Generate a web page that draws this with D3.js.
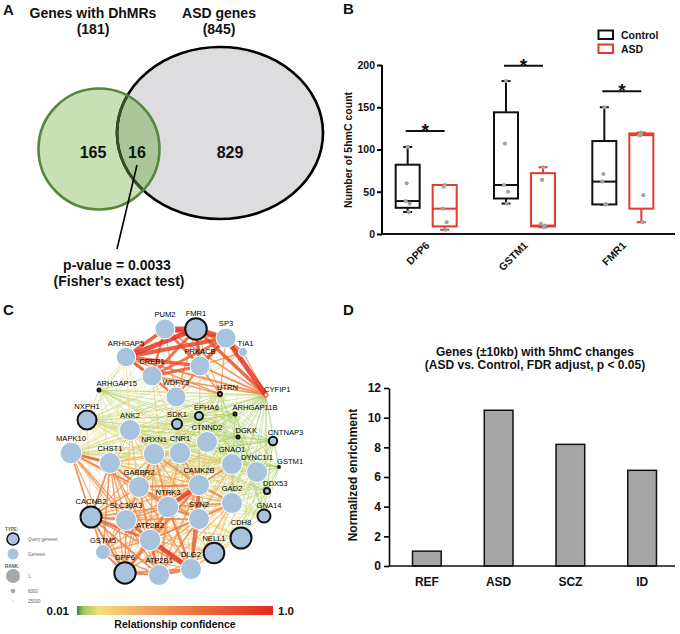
<!DOCTYPE html>
<html><head><meta charset="utf-8">
<script src="https://cdn.jsdelivr.net/npm/d3@7"></script>
<style>
body{margin:0;background:#fff}
svg{display:block}
text{font-family:"Liberation Sans",Arial,Helvetica,sans-serif}
</style>
</head><body>
<svg id="chart" width="680" height="634"></svg>
<script>
// ---------------- DATA ----------------
// Panel A (Venn)
const vennSetNames = ["Genes with DhMRs", "ASD genes"];
const vennSetTotals = [181, 845];
const vennRegionCounts = [165, 16, 829];
const vennPText = ["p-value = 0.0033", "(Fisher's exact test)"];

// Panel B (box plots)
const boxGenes = ["DPP6", "GSTM1", "FMR1"];
const boxGroups = ["Control", "ASD"];
// [min, q1, median, q3, max]
const controlBox = [[26, 31, 39, 82, 103], [36, 42, 58, 144, 181], [35, 35, 62, 110, 150]];
const asdBox = [[5, 9, 30, 58, 58], [8, 9, 10, 72, 79], [14, 30, 117, 119, 120]];
const controlPoints = [[103, 60, 39, 36, 26], [181, 107, 58, 50, 36], [150, 71, 62, 35, 35]];
const asdPoints = [[58, 56, 30, 14, 5], [79, 64, 12, 10, 8], [120, 117, 117, 46, 14]];
const sigBarValues = [122, 199, 169];
const boxYTicks = [0, 50, 100, 150, 200];

// Panel C (network)
const nodeNames = ["PUM2","FMR1","SP3","TIA1","ARHGAP5","PRKACB","CREB1","ARHGAP15","WDFY3","UTRN","CYFIP1",
  "NXPH1","ANK2","SDK1","EPHA6","ARHGAP11B","CTNND2","DGKK","CNTNAP3","MAPK10","NRXN1","CNR1","CHST1",
  "GNAO1","DYNC1I1","GSTM1","GABBR2","CAMK2B","DDX53","NTRK3","GAD2","CACNB2","SLC30A3","SYN2","GNA14",
  "ATP2B2","CDH8","NELL1","GSTM5","DPP6","ATP2B1","DLG2"];
const nodeQuery = [0,1,0,0,0,0,0,1,0,1,0, 1,0,1,1,1,0,1,1,0,0,0,0, 0,0,1,0,0,1,0,0,1,0,0,1, 0,1,1,0,1,0,0];
const nodeRank = [700,150,700,4590,900,700,700,17000,700,11500,22500,
  1060,350,4235,4940,17000,350,17000,4800,150,200,200,350,
  350,350,22500,350,350,5650,200,350,350,350,350,3180,
  150,350,490,2470,200,350,350];
// layout coordinates (network layout space)
const nodeLayoutX = [110,141,171,188,71,145,97,44,121,165,211, 32,75,122,144,180,152,183,218,16,99,125,55,
  177,202,224,84,144,212,113,177,36,71,144,209, 95,186,159,48,70,104,136];
const nodeLayoutY = [9,9,18,32,37,46,56,70,77,74,75, 100,110,104,96,94,122,117,121,133,134,133,143,
  144,152,147,167,165,171,187,183,197,200,199,196, 220,218,233,232,253,255,249];
// edges: "SOURCE: TARGET confidence(%), ..."
const edgeLists = [
 "FMR1: PUM2 95, ARHGAP5 95, SP3 92, PRKACB 80, CREB1 72, CYFIP1 78, TIA1 55, WDFY3 45, UTRN 35",
 "PUM2: ARHGAP5 80, SP3 75, PRKACB 70, CREB1 65, WDFY3 40, CYFIP1 50, TIA1 40, ANK2 12",
 "SP3: ARHGAP5 85, PRKACB 80, CREB1 70, CYFIP1 95, TIA1 55, WDFY3 45, UTRN 40",
 "ARHGAP5: PRKACB 80, CREB1 75, WDFY3 50, UTRN 45, CYFIP1 55, ARHGAP15 10, ANK2 18, NRXN1 14, CHST1 14",
 "PRKACB: CREB1 75, WDFY3 55, UTRN 50, CYFIP1 55, TIA1 50, CAMK2B 30, GNAO1 20",
 "CREB1: WDFY3 60, UTRN 45, CYFIP1 50, ARHGAP15 8, NTRK3 25, CAMK2B 25",
 "TIA1: CYFIP1 40, WDFY3 30, UTRN 20, ARHGAP11B 10, EPHA6 10, CTNND2 10",
 "CYFIP1: UTRN 8, ARHGAP11B 6, DGKK 5, CNTNAP3 5, GSTM1 4, DYNC1I1 6, GNAO1 6, CTNND2 5, EPHA6 5, SDK1 5, WDFY3 7, CNR1 6, NRXN1 6, ANK2 5, NXPH1 5, ARHGAP15 5, MAPK10 5, GAD2 4, GNA14 4, DDX53 4, CAMK2B 6, CHST1 4, GABBR2 5, SYN2 4, NTRK3 5, CDH8 4, NELL1 4, SLC30A3 4, ATP2B2 4",
 "UTRN: WDFY3 10, SDK1 8, EPHA6 7, CTNND2 8, ARHGAP11B 5, DGKK 5, CNTNAP3 5, GNAO1 6, ANK2 7, NRXN1 7, CNR1 6, NXPH1 6, MAPK10 6, DYNC1I1 5, ARHGAP15 6, CHST1 5, GAD2 5, CAMK2B 7, GABBR2 6, SYN2 5, GNA14 4",
 "ARHGAP15: WDFY3 8, SDK1 6, CTNND2 6, NRXN1 8, CNR1 6, ANK2 10, NXPH1 8, MAPK10 10, EPHA6 5, CHST1 7, ARHGAP11B 4, DGKK 4, GNAO1 5, CNTNAP3 4, DYNC1I1 5, CAMK2B 6, GABBR2 6, PRKACB 6, PUM2 6",
 "ARHGAP11B: EPHA6 5, SDK1 5, CTNND2 5, DGKK 5, CNTNAP3 5, GNAO1 5, DYNC1I1 5, CNR1 5, NRXN1 5, ANK2 4, WDFY3 5, NXPH1 4, MAPK10 4, CAMK2B 5, GAD2 4, GNA14 4, GSTM1 4, DDX53 4, CHST1 4, GABBR2 4",
 "DGKK: CTNND2 6, GNAO1 6, CNTNAP3 5, DYNC1I1 6, GSTM1 4, CNR1 5, NRXN1 5, SDK1 5, EPHA6 5, GAD2 5, CAMK2B 6, ANK2 4, MAPK10 4, GNA14 5, DDX53 5, SYN2 5, CHST1 4, GABBR2 5, WDFY3 5, NXPH1 5",
 "CNTNAP3: GNAO1 6, DYNC1I1 7, GSTM1 5, DDX53 5, GAD2 5, GNA14 6, CTNND2 6, CAMK2B 6, CNR1 5, NRXN1 5, ANK2 5, SDK1 4, SYN2 5, CHST1 4, GABBR2 5, NTRK3 6, CDH8 6, NELL1 5, WDFY3 5, EPHA6 5, NXPH1 5, MAPK10 6",
 "GSTM1: DYNC1I1 6, DDX53 5, GNA14 5, GAD2 5, GNAO1 5, CAMK2B 5, SYN2 5, CTNND2 5, CDH8 5, CNR1 5, NRXN1 5, NTRK3 5, NELL1 4, ANK2 4, NXPH1 5, MAPK10 5",
 "DDX53: DYNC1I1 6, GAD2 6, GNA14 6, GNAO1 6, CAMK2B 6, SYN2 6, CDH8 6, NELL1 5, CNR1 5, NRXN1 5, NTRK3 6, CTNND2 5, NXPH1 5, MAPK10 5",
 "NXPH1: ANK2 12, MAPK10 15, CHST1 12, NRXN1 14, CNR1 10, SDK1 8, WDFY3 8, CREB1 10, GABBR2 12, CACNB2 20, CTNND2 8, EPHA6 6, NTRK3 12, CAMK2B 10, GNAO1 8, DYNC1I1 6, PRKACB 8, ARHGAP5 8, SYN2 10, GAD2 8, TIA1 5",
 "MAPK10: ANK2 20, NRXN1 25, CNR1 20, SDK1 12, EPHA6 8, WDFY3 15, CREB1 20, CHST1 70, GABBR2 55, CACNB2 50, SLC30A3 45, NTRK3 40, CAMK2B 35, GNAO1 20, ATP2B2 45, DPP6 40, GSTM5 35, CTNND2 15, SYN2 30, GAD2 25, DYNC1I1 8, GNA14 8, PRKACB 10, ARHGAP5 12, PUM2 10, ATP2B1 30, DLG2 25, NELL1 15, CDH8 12, TIA1 6",
 "EPHA6: SDK1 8, CTNND2 8, CNR1 7, NRXN1 7, ANK2 6, GNAO1 7, CAMK2B 8, DYNC1I1 6, WDFY3 8, GAD2 6, SYN2 6, NTRK3 8, GABBR2 6, CHST1 6",
 "SDK1: ANK2 10, NRXN1 12, CNR1 10, CTNND2 10, GNAO1 8, WDFY3 10, CAMK2B 12, NTRK3 12, DYNC1I1 6, GAD2 8, SYN2 8, CHST1 8, GABBR2 10",
 "GNA14: GAD2 10, DYNC1I1 8, GNAO1 10, SYN2 12, CDH8 12, NELL1 10, CAMK2B 10, CTNND2 6, CNR1 6, NRXN1 6, NTRK3 8, GABBR2 6, ATP2B2 8, DLG2 8",
 "CDH8: GAD2 20, SYN2 20, NELL1 25, DYNC1I1 10, GNAO1 12, CAMK2B 20, DLG2 25, NTRK3 20, ATP2B2 20, ATP2B1 20, SLC30A3 20, CHST1 15, GABBR2 20",
 "NELL1: GAD2 25, SYN2 30, DLG2 40, ATP2B1 35, ATP2B2 35, NTRK3 30, CAMK2B 25, DPP6 25, DYNC1I1 10, GSTM5 20, SLC30A3 25, GABBR2 25",
 "DYNC1I1: GNAO1 15, GAD2 15, CAMK2B 12, CTNND2 10, SYN2 10, CNR1 8, NRXN1 8, NTRK3 10, GABBR2 8, CHST1 6, DLG2 10",
 "CTNND2: CNR1 15, NRXN1 15, GNAO1 15, CAMK2B 20, ANK2 12, WDFY3 12, GAD2 12, NTRK3 20, SYN2 15, CHST1 12, GABBR2 15, DLG2 15, ATP2B2 15, SLC30A3 12",
 "WDFY3: ANK2 15, NRXN1 15, CNR1 15, CAMK2B 20, GNAO1 8, DYNC1I1 6, GABBR2 8, CHST1 8",
 "ANK2: NRXN1 30, CHST1 25, CNR1 20, GABBR2 30, NTRK3 30, CAMK2B 25, SLC30A3 25, CACNB2 30, GNAO1 10, DYNC1I1 8, SYN2 15, GAD2 12, ATP2B2 20, DPP6 15",
 "CACNB2: SLC30A3 60, ATP2B2 70, GABBR2 50, CHST1 55, DPP6 60, GSTM5 50, NTRK3 50, ATP2B1 55, DLG2 50, CAMK2B 40, NRXN1 40, SYN2 40, GAD2 30, CNR1 30, GNAO1 25, NELL1 30, CDH8 25",
 "ATP2B2: DLG2 92, SLC30A3 65, ATP2B1 70, NTRK3 60, SYN2 55, CAMK2B 60, GABBR2 50, DPP6 65, GSTM5 45, GAD2 40, CHST1 45, NRXN1 40, GNAO1 20, CNR1 30",
 "NTRK3: CAMK2B 90, SYN2 60, GABBR2 55, SLC30A3 50, GAD2 50, DLG2 60, ATP2B1 50, CNR1 40, NRXN1 50, CHST1 45, DPP6 45, GNAO1 35, GSTM5 35",
 "CAMK2B: SYN2 60, GAD2 55, GNAO1 50, CNR1 50, NRXN1 50, GABBR2 60, DLG2 70, SLC30A3 45, ATP2B1 45, CHST1 35, GSTM5 30, DPP6 40",
 "DPP6: GSTM5 60, ATP2B1 60, SLC30A3 50, DLG2 55, GABBR2 40, SYN2 40, CHST1 45, NRXN1 35, GAD2 30, CNR1 20",
 "GABBR2: CHST1 55, SLC30A3 55, SYN2 50, NRXN1 55, GAD2 40, CNR1 40, GNAO1 30, GSTM5 35",
 "ATP2B1: DLG2 65, SLC30A3 50, SYN2 50, GSTM5 45, GAD2 35, GABBR2 40, CHST1 40, NRXN1 30, CNR1 30",
 "SYN2: GAD2 55, DLG2 60, SLC30A3 50, NRXN1 40, CNR1 40, GNAO1 35, GSTM5 30",
 "GNAO1: GAD2 40, CNR1 30, NRXN1 25, CHST1 15, DLG2 20, NELL1 15",
 "CHST1: NRXN1 35, SLC30A3 45, GSTM5 50, CNR1 25, DLG2 35, GAD2 25",
 "DLG2: GAD2 40, SLC30A3 45, GSTM5 40, GABBR2 45, NRXN1 30, CNR1 25",
 "NRXN1: CNR1 40, SLC30A3 40, GAD2 30, GSTM5 25",
 "GSTM5: SLC30A3 45, GAD2 25",
 "GAD2: SLC30A3 30, CNR1 25"
];
const legendTypeLabels = ["Query geneset", "Geneset"];
const legendRanks = [1, 6000, 25000];
const confidenceRange = [0.01, 1.0];

// Panel D (bars)
const enrichCategories = ["REF", "ASD", "SCZ", "ID"];
const enrichValues = [1.0, 10.5, 8.2, 6.45];
const enrichYTicks = [0, 2, 4, 6, 8, 10, 12];
const enrichTitle = ["Genes (\u00B110kb) with 5hmC changes", "(ASD vs. Control, FDR adjust, p < 0.05)"];

// ---------------- DRAW ----------------
const svg = d3.select("#chart");
const boldText = (g, x, y, s, size, anchor) => g.append("text").attr("x", x).attr("y", y)
  .attr("font-size", size).attr("font-weight", "bold").attr("text-anchor", anchor || "middle")
  .attr("fill", "#111").text(s);

// panel letters
[["A",3,15],["B",343,14],["C",3,315],["D",343,315]].forEach(d => boldText(svg, d[1], d[2], d[0], 15, "start"));

// ===== Panel A =====
const A = svg.append("g");
const green = {cx: 99, cy: 149, r: 60.5};
const grey = {cx: 220, cy: 133, rx: 103, ry: 86};
const defs = svg.append("defs");
defs.append("clipPath").attr("id", "clipGreen").append("circle").attr("cx", green.cx).attr("cy", green.cy).attr("r", green.r);
defs.append("clipPath").attr("id", "clipGrey").append("ellipse").attr("cx", grey.cx).attr("cy", grey.cy).attr("rx", grey.rx).attr("ry", grey.ry);
A.append("ellipse").attr("cx", grey.cx).attr("cy", grey.cy).attr("rx", grey.rx).attr("ry", grey.ry).attr("fill", "#dddcde");
A.append("circle").attr("cx", green.cx).attr("cy", green.cy).attr("r", green.r).attr("fill", "#c7e1b5");
A.append("circle").attr("cx", green.cx).attr("cy", green.cy).attr("r", green.r).attr("fill", "#aac69a").attr("clip-path", "url(#clipGrey)");
A.append("ellipse").attr("cx", grey.cx).attr("cy", grey.cy).attr("rx", grey.rx).attr("ry", grey.ry).attr("fill", "none").attr("stroke", "#000").attr("stroke-width", 2.6);
A.append("ellipse").attr("cx", grey.cx).attr("cy", grey.cy).attr("rx", grey.rx).attr("ry", grey.ry).attr("fill", "none").attr("stroke", "#34502a").attr("stroke-width", 2.8).attr("clip-path", "url(#clipGreen)");
A.append("circle").attr("cx", green.cx).attr("cy", green.cy).attr("r", green.r).attr("fill", "none").attr("stroke", "#56873a").attr("stroke-width", 2.6);
boldText(A, 93, 18, vennSetNames[0], 14);
boldText(A, 93, 34, "(" + vennSetTotals[0] + ")", 14);
boldText(A, 219, 18, vennSetNames[1], 14);
boldText(A, 219, 34, "(" + vennSetTotals[1] + ")", 14);
boldText(A, 93, 158, vennRegionCounts[0], 16);
boldText(A, 137, 158, vennRegionCounts[1], 16);
boldText(A, 230, 158, vennRegionCounts[2], 16);
A.append("line").attr("x1", 137).attr("y1", 165).attr("x2", 117).attr("y2", 249).attr("stroke", "#000").attr("stroke-width", 1.6);
boldText(A, 117, 270, vennPText[0], 14);
boldText(A, 119, 286, vennPText[1], 14);

// ===== Panel B =====
const B = svg.append("g");
const yB = d3.scaleLinear().domain([0, 200]).range([234, 65]);
const xB = d3.scaleBand().domain(boxGenes).range([377, 672]);
const xSub = d3.scalePoint().domain(boxGroups).range([-18.5, 18.5]);
const boxColor = d3.scaleOrdinal().domain(boxGroups).range(["#111", "#e5392b"]);
const yAxisB = B.append("g").attr("transform", "translate(382,0)")
  .call(d3.axisLeft(yB).tickValues(boxYTicks).tickSize(5).tickSizeOuter(0));
yAxisB.select(".domain").attr("stroke-width", 2).attr("d", `M0,${yB(0)}V${yB(200)}`);
yAxisB.selectAll(".tick line").attr("stroke-width", 2);
yAxisB.selectAll(".tick text").attr("font-size", 10.5).attr("font-weight", "bold").attr("fill", "#111").attr("x", -7).attr("font-family", '"Liberation Sans",Arial,sans-serif');
B.append("line").attr("x1", 381).attr("x2", 675).attr("y1", yB(0)).attr("y2", yB(0)).attr("stroke", "#111").attr("stroke-width", 2);
B.append("text").attr("transform", "translate(352,150) rotate(-90)").attr("text-anchor", "middle")
  .attr("font-size", 10.5).attr("font-weight", "bold").attr("fill", "#111").text("Number of 5hmC count");
const jitter = [0, -1, -2, 2, 1];
boxGenes.forEach((gene, i) => {
  const center = xB(gene) + xB.bandwidth() / 2;
  boxGroups.forEach(grp => {
    const s = (grp === "Control" ? controlBox : asdBox)[i];
    const pts = (grp === "Control" ? controlPoints : asdPoints)[i];
    const cx = center + xSub(grp);
    const col = boxColor(grp);
    const g = B.append("g").attr("stroke", col).attr("stroke-width", 2).attr("fill", "none");
    g.append("line").attr("x1", cx).attr("x2", cx).attr("y1", yB(s[3])).attr("y2", yB(s[4]));
    g.append("line").attr("x1", cx).attr("x2", cx).attr("y1", yB(s[1])).attr("y2", yB(s[0]));
    g.append("line").attr("x1", cx - 4.5).attr("x2", cx + 4.5).attr("y1", yB(s[4])).attr("y2", yB(s[4]));
    g.append("line").attr("x1", cx - 4.5).attr("x2", cx + 4.5).attr("y1", yB(s[0])).attr("y2", yB(s[0]));
    g.append("rect").attr("x", cx - 12).attr("width", 24).attr("y", yB(s[3])).attr("height", yB(s[1]) - yB(s[3])).attr("fill", "#fff");
    g.append("line").attr("x1", cx - 12).attr("x2", cx + 12).attr("y1", yB(s[2])).attr("y2", yB(s[2]));
    B.selectAll(null).data(pts).join("circle")
      .attr("cx", (d, k) => cx + jitter[k]).attr("cy", d => yB(d)).attr("r", 2.1).attr("fill", "#a3a3a3");
  });
  const x1 = center + xSub("Control") - 2, x2 = center + xSub("ASD");
  B.append("line").attr("x1", x1).attr("x2", x2).attr("y1", yB(sigBarValues[i])).attr("y2", yB(sigBarValues[i])).attr("stroke", "#111").attr("stroke-width", 2);
  boldText(B, (x1 + x2) / 2, yB(sigBarValues[i]) + 6, "*", 19);
  B.append("text").attr("transform", `translate(${center + 4},246) rotate(-45)`).attr("text-anchor", "end")
    .attr("font-size", 10.5).attr("font-weight", "bold").attr("fill", "#111").text(gene);
});
boxGroups.forEach((grp, k) => {
  B.append("rect").attr("x", 598.5).attr("y", 30.5 + k * 14).attr("width", 14.5).attr("height", 8.5)
    .attr("fill", "#fff").attr("stroke", boxColor(grp)).attr("stroke-width", 2);
  boldText(B, 621, 38.5 + k * 14, grp, 10.5, "start");
});

// ===== Panel C =====
const C = svg.append("g");
const xC = d3.scaleLinear().domain([0, 230]).range([55, 285]);
const yC = d3.scaleLinear().domain([0, 260]).range([320, 580]);
const rC = d3.scaleLinear().domain([1, 6000, 25000]).range([11, 2.5, 0.8]).clamp(true);
const nodes = nodeNames.map((n, i) => ({name: n, query: nodeQuery[i], rank: nodeRank[i],
  x: xC(nodeLayoutX[i]), y: yC(nodeLayoutY[i]), r: rC(nodeRank[i])}));
const nodeIndex = new Map(nodes.map(d => [d.name, d]));
const edges = [];
const seen = new Set();
edgeLists.forEach(line => {
  const [src, rest] = line.split(":");
  rest.split(",").forEach(part => {
    const [t, w] = part.trim().split(/\s+/);
    const a = src.trim(), key = [a, t].sort().join("|");
    if (seen.has(key)) return;
    seen.add(key);
    edges.push({s: nodeIndex.get(a), t: nodeIndex.get(t), w: +w / 100});
  });
});
edges.sort((a, b) => a.w - b.w);
const confColor = d3.scaleLinear().domain([0.01, 0.04, 0.12, 0.3, 0.6, 1])
  .range(["#2e8b3a", "#9cc75c", "#f0e07a", "#f4b266", "#ec7440", "#e32a1e"]);
const confWidth = d3.scalePow().exponent(2.2).domain([0, 1]).range([0.55, 5.5]);
C.append("g").selectAll("line").data(edges).join("line")
  .attr("x1", d => d.s.x).attr("y1", d => d.s.y).attr("x2", d => d.t.x).attr("y2", d => d.t.y)
  .attr("stroke", d => confColor(d.w)).attr("stroke-width", d => confWidth(d.w))
  .attr("stroke-opacity", 0.85).attr("stroke-linecap", "round");
C.append("g").selectAll("circle").data(nodes).join("circle")
  .attr("cx", d => d.x).attr("cy", d => d.y).attr("r", d => d.r)
  .attr("fill", "#a7c3de")
  .attr("stroke", d => d.query ? "#111" : "#fff")
  .attr("stroke-width", d => d.query ? 2 : 1);
C.append("g").selectAll("text").data(nodes).join("text")
  .attr("x", d => d.r < 7 && d.name !== "SDK1" ? d.x - d.r - 1 : d.x)
  .attr("y", d => d.y - d.r - (d.query ? 2 : 1.5))
  .attr("text-anchor", d => d.r < 7 && d.name !== "SDK1" ? "start" : "middle")
  .attr("font-family", '"DejaVu Sans",Verdana,sans-serif')
  .attr("font-size", 7.6).attr("fill", "#000").text(d => d.name);

// legend
const L = C.append("g");
L.append("text").attr("x", 5).attr("y", 531).attr("font-size", 4.5).attr("font-weight", "bold").attr("fill", "#555").text("TYPE:");
L.append("circle").attr("cx", 13).attr("cy", 539).attr("r", 6).attr("fill", "#a7c3de").attr("stroke", "#111").attr("stroke-width", 1.5);
L.append("circle").attr("cx", 13).attr("cy", 554).attr("r", 5.5).attr("fill", "#a7c3de");
legendTypeLabels.forEach((t, k) => L.append("text").attr("x", 28).attr("y", 541 + k * 15).attr("font-size", 4.5).attr("fill", "#666").text(t));
L.append("text").attr("x", 5).attr("y", 568).attr("font-size", 4.5).attr("font-weight", "bold").attr("fill", "#555").text("RANK:");
const rLeg = d3.scaleLinear().domain([1, 6000, 25000]).range([7, 2.3, 0.6]);
const legYs = [576, 591, 601];
legendRanks.forEach((rk, k) => {
  L.append("circle").attr("cx", 13).attr("cy", legYs[k]).attr("r", rLeg(rk)).attr("fill", "#a8a8a8");
  L.append("text").attr("x", 28).attr("y", legYs[k] + 1.5).attr("font-size", 4.5).attr("fill", "#666").text(rk);
});
// colorbar
const grad = defs.append("linearGradient").attr("id", "confGrad");
const cbX = d3.scaleLinear().domain(confidenceRange).range([77, 273]);
confColor.domain().forEach(v => grad.append("stop").attr("offset", (cbX(v) - 77) / 196).attr("stop-color", confColor(v)));
C.append("rect").attr("x", 77).attr("y", 606).attr("width", 196).attr("height", 9).attr("fill", "url(#confGrad)");
boldText(C, 69, 615, confidenceRange[0].toString(), 11.5, "end");
boldText(C, 278, 615, confidenceRange[1].toFixed(1), 11.5, "start");
boldText(C, 175, 628, "Relationship confidence", 10.5);

// ===== Panel D =====
const D = svg.append("g");
const yD = d3.scaleLinear().domain([0, 12]).range([566, 388]);
const xD = d3.scaleBand().domain(enrichCategories).range([391, 678]).paddingInner(0.6).paddingOuter(0.3);
D.selectAll("rect").data(enrichValues).join("rect")
  .attr("x", (d, i) => xD(enrichCategories[i])).attr("width", xD.bandwidth())
  .attr("y", d => yD(d)).attr("height", d => yD(0) - yD(d))
  .attr("fill", "#a6a6a6").attr("stroke", "#111").attr("stroke-width", 1.5);
const yAxisD = D.append("g").attr("transform", "translate(389,0)")
  .call(d3.axisLeft(yD).tickValues(enrichYTicks).tickSize(5).tickSizeOuter(0));
yAxisD.select(".domain").attr("stroke-width", 1.6);
yAxisD.selectAll(".tick line").attr("stroke-width", 1.6);
yAxisD.selectAll(".tick text").attr("font-size", 12).attr("font-weight", "bold").attr("fill", "#111").attr("x", -8).attr("font-family", '"Liberation Sans",Arial,sans-serif');
D.append("line").attr("x1", 389).attr("x2", 675).attr("y1", yD(0)).attr("y2", yD(0)).attr("stroke", "#111").attr("stroke-width", 1.6);
enrichCategories.forEach(c => boldText(D, xD(c) + xD.bandwidth() / 2, 586, c, 12));
D.append("text").attr("transform", "translate(357,475) rotate(-90)").attr("text-anchor", "middle")
  .attr("font-size", 12).attr("font-weight", "bold").attr("fill", "#111").text("Normalized enrichment");
boldText(D, 535, 356, enrichTitle[0], 12);
boldText(D, 535, 369, enrichTitle[1], 12);
</script>
</body></html>
